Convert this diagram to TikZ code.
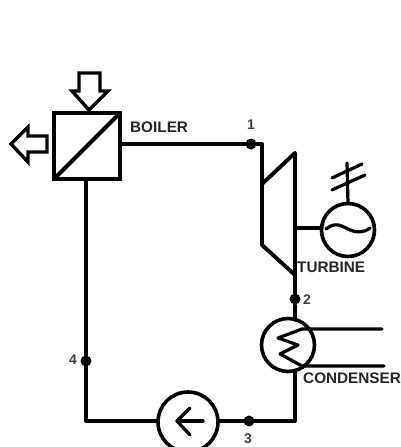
\documentclass[tikz,border=0pt]{standalone}
\usepackage{fontspec}
\setmainfont{Liberation Sans}
\usetikzlibrary{calc, arrows.meta}
\tikzset{
  pipe/.style={line width=3.9pt, line join=round, line cap=round},
  thin pipe/.style={line width=3.2pt, line join=round, line cap=round},
  unit/.style={circle, draw, line width=3.6pt, fill=white, inner sep=0pt, outer sep=0pt},
  statepoint/.style={circle, fill=black, inner sep=0pt, minimum size=11pt},
  statelabel/.style={inner sep=0pt, font=\bfseries\fontsize{14}{14}\selectfont, text=black!75},
  tag/.style={inner sep=0pt, anchor=west, font=\bfseries\fontsize{15.3}{15.3}\selectfont, text=black!85}
}
\begin{document}
\begin{tikzpicture}[x=1pt, y=-1pt]
\useasboundingbox (0,0) rectangle (401,447);
% corners of the loop
\coordinate (inlet) at (262,144);
\coordinate (corner3) at (295,421);
\coordinate (corner4) at (86,421);
% components
\node[draw, line width=4.4pt, minimum size=66pt, inner sep=0pt, outer sep=0pt] (boiler) at (87,146) {};
\node[unit, minimum size=53pt] (condenser) at (288,345) {};
\node[unit, minimum size=60pt] (pump) at (188,422) {};
\node[unit, minimum size=53pt] (generator) at (348,230) {};
% state points
\node[statepoint] (p1) at (251,144) {};
\node[statepoint] (p2) at (295,299) {};
\node[statepoint] (p3) at (249,421) {};
\node[statepoint] (p4) at (86,361) {};
% pipework
\draw[pipe] (boiler.east |- p1) -- (p1) -- (inlet);
\draw[pipe] (boiler.south -| corner4) -- (p4) -- (corner4) -- (pump.west |- corner4);
\draw[pipe] (pump.east |- corner4) -- (p3) -- (corner3) -- (condenser.south -| corner3);
\draw[pipe] (boiler.south west) -- (boiler.north east);
% turbine
\coordinate (turbtop) at (295,153);
\coordinate (turbbot) at (295,275);
\draw[pipe] (inlet) -- (262,245) -- (turbbot);
\draw[pipe] (262,184) -- (turbtop) -- (turbbot) -- (p2) -- (295,320);
\draw[pipe] (295,228) -- (generator.west |- 295,228);
% generator
\draw[thin pipe] (generator.north) -- (347,163);
\draw[thin pipe] (332,178) -- (362,164);
\draw[thin pipe] (332,190) -- (365,175);
\draw[thin pipe] (326,229) .. controls (335,222) and (340,225) .. (348,229) .. controls (356,233) and (364,233) .. (370,228);
% condenser coil
\draw[thin pipe] (382,329) -- (302,329) -- (278,338) -- (298,345) -- (280,354) -- (302,366) -- (384,366);
% feed pump
\draw[thin pipe] (203,421) -- (177,421);
\draw[thin pipe] (190,408) -- (177,421) -- (190,435);
% heat in and out
\draw[line width=3.4pt, line join=miter] (79,73) -- (100,73) -- (100,91) -- (108,91) -- (89,110) -- (72,91) -- (79,91) -- cycle;
\draw[line width=3.4pt, line join=miter] (47,136) -- (28,136) -- (28,127) -- (11,144) -- (28,162) -- (28,152) -- (47,152) -- cycle;
% labels
\node[tag] (boilertag) at (130,127) {BOILER};
\node[tag] (turbinetag) at (297,267) {TURBINE};
\node[tag] (condensertag) at (303,378) {CONDENSER};
\node[statelabel] (n1) at (251,125) {1};
\node[statelabel] (n2) at (307,300) {2};
\node[statelabel] (n3) at (248,439) {3};
\node[statelabel] (n4) at (73,360) {4};
\end{tikzpicture}
\end{document}
